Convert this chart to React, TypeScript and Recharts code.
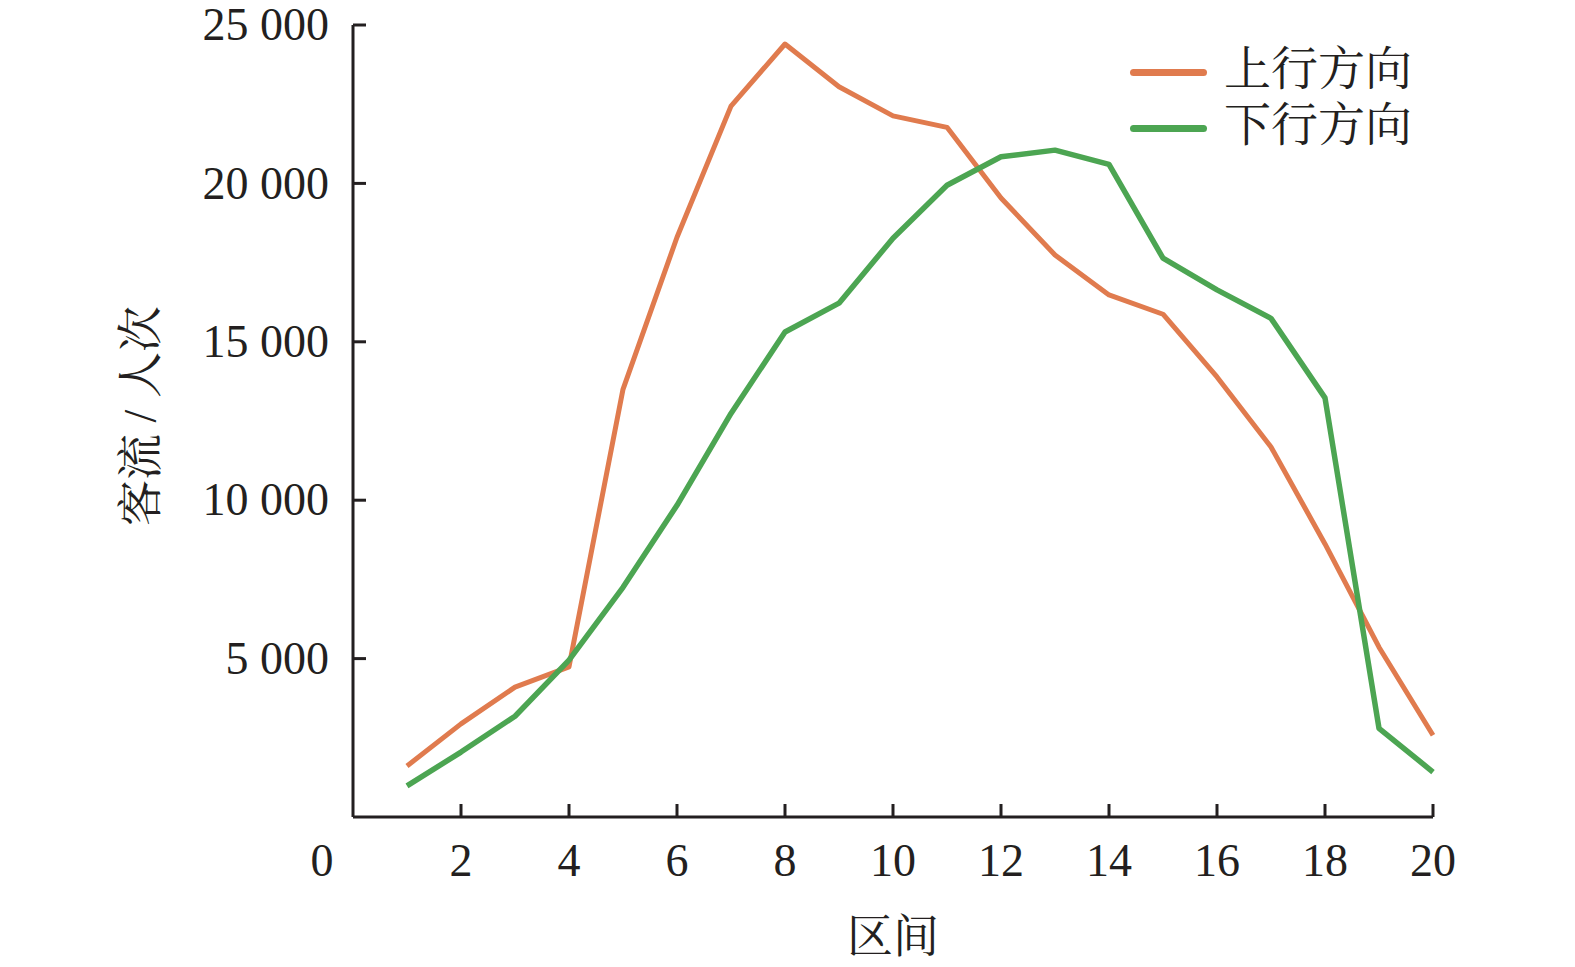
import { Legend, Line, LineChart, XAxis, YAxis } from "recharts";

// 区间 1..20
const sections = [1, 2, 3, 4, 5, 6, 7, 8, 9, 10, 11, 12, 13, 14, 15, 16, 17, 18, 19, 20];

const upName = "上行方向";
const upFlow = [
	1610, 2940, 4100, 4740, 13500, 18300, 22440, 24400, 23050, 22130, 21770, 19540,
	17740, 16480, 15870, 13890, 11680, 8620, 5360, 2580,
];

const downName = "下行方向";
const downFlow = [
	980, 2050, 3180, 4950, 7250, 9840, 12740, 15310, 16220, 18270, 19940, 20840,
	21050, 20600, 17640, 16640, 15740, 13230, 2800, 1420,
];

const xTicks = [0, 2, 4, 6, 8, 10, 12, 14, 16, 18, 20];
const yTicks = [5000, 10000, 15000, 20000, 25000];
const xTitle = "区间";
const yTitle = "客流 / 人次";

const chartData = sections.map((section, i) => ({
	section,
	up: upFlow[i],
	down: downFlow[i],
}));

const INK = "#231f20";
const ORANGE = "#e07b4e";
const GREEN = "#4ca552";
const FONT =
	"'Liberation Serif', 'Times New Roman', 'Noto Serif CJK SC', 'Noto Sans CJK SC', serif";
const TICK_LEN = 13;

const withSpaces = (v: number) => String(v).replace(/\B(?=(\d{3})+(?!\d))/g, " ");

function XTick(props: any) {
	const { x, y, payload } = props;
	const isZero = payload.value === 0;
	return (
		<g>
			{!isZero && (
				<line x1={x} x2={x} y1={y} y2={y - TICK_LEN} stroke={INK} strokeWidth={3} />
			)}
			<text
				x={isZero ? x - 31 : x}
				y={y + 59}
				textAnchor="middle"
				fill={INK}
				fontSize={46}
				fontFamily={FONT}
			>
				{payload.value}
			</text>
		</g>
	);
}

function YTick(props: any) {
	const { x, y, payload } = props;
	return (
		<g>
			<line x1={x} x2={x + TICK_LEN} y1={y} y2={y} stroke={INK} strokeWidth={3} />
			<text
				x={x - 24}
				y={y}
				dy="0.33em"
				textAnchor="end"
				fill={INK}
				fontSize={46}
				fontFamily={FONT}
			>
				{withSpaces(payload.value)}
			</text>
		</g>
	);
}

const renderLegend = (props: any) => (
	<div style={{ display: "flex", flexDirection: "column" }}>
		{(props.payload ?? []).map((entry: any) => (
			<div
				key={entry.value}
				style={{ display: "flex", alignItems: "center", height: 56 }}
			>
				<span
					style={{
						display: "inline-block",
						width: 77,
						height: 7,
						borderRadius: 4,
						background: entry.color,
						marginRight: 17,
						marginTop: 6,
					}}
				/>
				<span
					style={{
						fontSize: 47,
						lineHeight: "56px",
						color: INK,
						fontFamily: FONT,
					}}
				>
					{entry.value}
				</span>
			</div>
		))}
	</div>
);

export default function App() {
	return (
		<div style={{ position: "absolute", left: 0, top: 0, background: "#fff" }}>
			<LineChart
				width={1575}
				height={967}
				data={chartData}
				margin={{ top: 25, right: 142, bottom: 0, left: 0 }}
			>
				<XAxis
					dataKey="section"
					type="number"
					domain={[0, 20]}
					ticks={xTicks}
					interval={0}
					height={150}
					tickSize={0}
					tickMargin={0}
					tick={XTick}
					axisLine={{ stroke: INK, strokeWidth: 3 }}
					label={(p: any) => {
						const vb = p.viewBox;
						return (
							<text
								x={vb.x + vb.width / 2}
								y={vb.y + 119}
								dy="0.35em"
								textAnchor="middle"
								fill={INK}
								fontSize={46}
								fontFamily={FONT}
							>
								{xTitle}
							</text>
						);
					}}
				/>
				<YAxis
					type="number"
					domain={[0, 25000]}
					ticks={yTicks}
					interval={0}
					width={353}
					tickSize={0}
					tickMargin={0}
					tick={YTick}
					axisLine={{ stroke: INK, strokeWidth: 3 }}
					label={(p: any) => {
						const vb = p.viewBox;
						const cx = vb.x + 140;
						const cy = vb.y + vb.height / 2 - 5;
						return (
							<text
								x={cx}
								y={cy}
								dy="0.35em"
								textAnchor="middle"
								transform={`rotate(-90 ${cx} ${cy})`}
								fill={INK}
								fontSize={46}
								fontFamily={FONT}
							>
								{yTitle}
							</text>
						);
					}}
				/>
				<Legend
					layout="vertical"
					align="center"
					verticalAlign="middle"
					content={renderLegend}
					wrapperStyle={{ top: 41, left: 1130, width: 320, height: 112 }}
				/>
				<Line
					type="linear"
					dataKey="up"
					name={upName}
					stroke={ORANGE}
					strokeWidth={5}
					strokeLinejoin="round"
					dot={false}
					activeDot={false}
					isAnimationActive={false}
				/>
				<Line
					type="linear"
					dataKey="down"
					name={downName}
					stroke={GREEN}
					strokeWidth={5.5}
					strokeLinejoin="round"
					dot={false}
					activeDot={false}
					isAnimationActive={false}
				/>
			</LineChart>
		</div>
	);
}
